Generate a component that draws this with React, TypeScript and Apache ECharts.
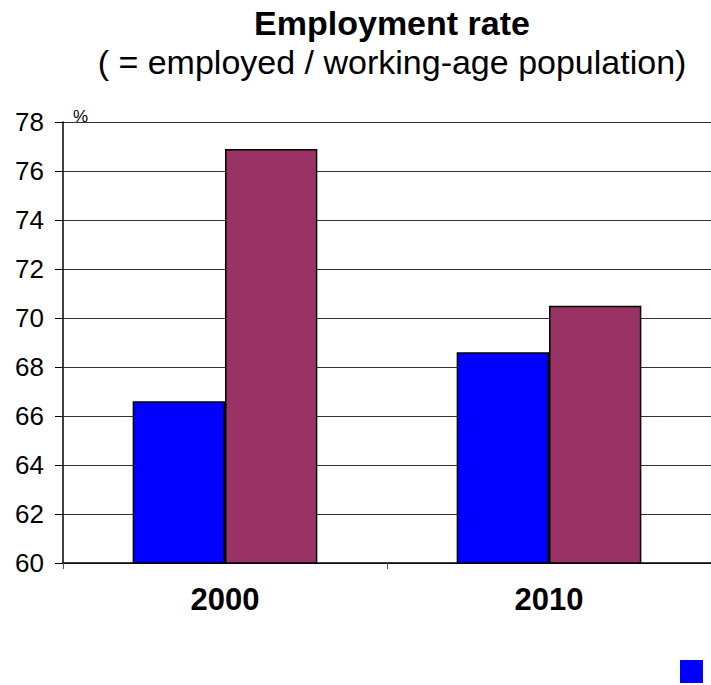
import React, { useEffect, useRef } from "react";
import * as echarts from "echarts";

const categories = ["2000", "2010"];
const series1Values = [66.6, 68.6];
const series2Values = [76.9, 70.5];
const seriesNames = ["Series 1", "Series 2"];
const yMin = 60;
const yMax = 78;
const yStep = 2;

export default function App() {
  const ref = useRef<HTMLDivElement>(null);
  useEffect(() => {
    const chart = echarts.init(ref.current!, null, { renderer: "svg" });
    const font = "Liberation Sans, Arial, sans-serif";
    chart.setOption({
      animation: false,
      backgroundColor: "#ffffff",
      textStyle: { fontFamily: font },
      graphic: [
        {
          type: "text",
          x: 392,
          y: 23,
          style: {
            text: "Employment rate",
            font: `bold 34px ${font}`,
            fill: "#000",
            align: "center",
            verticalAlign: "middle",
          },
        },
        {
          type: "text",
          x: 392,
          y: 62,
          style: {
            text: "( = employed / working-age population)",
            font: `34px ${font}`,
            fill: "#000",
            align: "center",
            verticalAlign: "middle",
          },
        },
        {
          type: "text",
          x: 73,
          y: 108,
          style: { text: "%", font: `17px ${font}`, fill: "#000" },
        },
        {
          type: "rect",
          shape: { x: 680, y: 660, width: 23, height: 23 },
          style: { fill: "#0000ff" },
        },
      ],
      grid: { left: 63, top: 122, width: 654, height: 441, containLabel: false },
      xAxis: {
        type: "category",
        data: categories,
        axisLine: { show: true, lineStyle: { color: "#000", width: 1.5 } },
        axisTick: { show: true, length: 6, lineStyle: { color: "#555" } },
        axisLabel: {
          color: "#000",
          fontSize: 31,
          fontWeight: "bold",
          fontFamily: font,
          margin: 21,
        },
      },
      yAxis: {
        type: "value",
        min: yMin,
        max: yMax,
        interval: yStep,
        axisLine: { show: true, lineStyle: { color: "#000", width: 1.5 } },
        axisTick: { show: true, length: 8, lineStyle: { color: "#000" } },
        axisLabel: { color: "#000", fontSize: 26, fontFamily: font, margin: 19 },
        splitLine: { show: true, lineStyle: { color: "#333", width: 1.2 } },
      },
      series: [
        {
          name: seriesNames[0],
          type: "bar",
          data: series1Values,
          barGap: "0%",
          barCategoryGap: "43%",
          itemStyle: { color: "#0000ff", borderColor: "#000", borderWidth: 1.5 },
        },
        {
          name: seriesNames[1],
          type: "bar",
          data: series2Values,
          barGap: "0%",
          barCategoryGap: "43%",
          itemStyle: { color: "#993366", borderColor: "#000", borderWidth: 1.5 },
        },
      ],
    });
    return () => chart.dispose();
  }, []);
  return <div ref={ref} style={{ width: 711, height: 685, position: "absolute", left: 0, top: 0 }} />;
}
